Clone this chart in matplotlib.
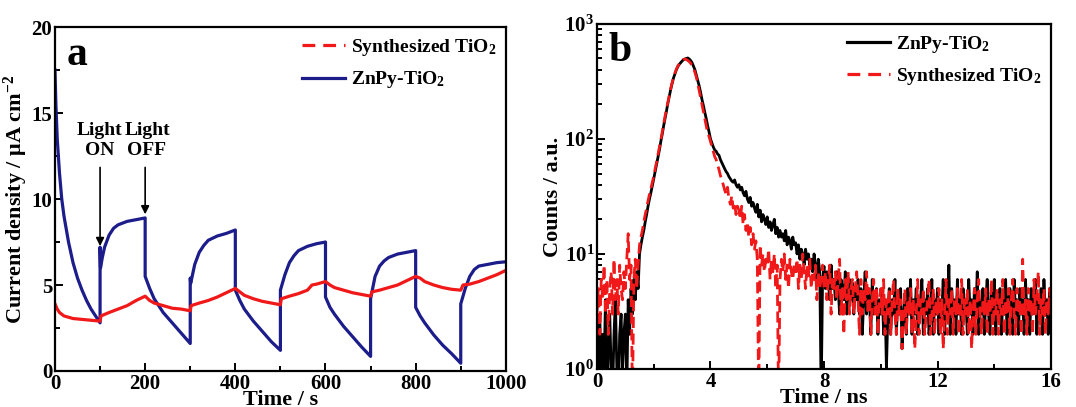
import matplotlib
matplotlib.use("Agg")
import matplotlib.pyplot as plt
import numpy as np
from matplotlib.lines import Line2D
from matplotlib.ticker import MultipleLocator, LogLocator, NullFormatter

plt.rcParams['font.family'] = ['Liberation Serif', 'DejaVu Serif']
plt.rcParams['font.weight'] = 'bold'
plt.rcParams['mathtext.fontset'] = 'custom'
plt.rcParams['mathtext.rm'] = 'Liberation Serif:bold'
plt.rcParams['mathtext.bf'] = 'Liberation Serif:bold'
plt.rcParams['mathtext.it'] = 'Liberation Serif:italic:bold'
plt.rcParams['mathtext.default'] = 'rm'

# ---------------- Panel a data: photocurrent ----------------
zn_t = [0, 2, 5, 10, 15, 20, 30, 40, 50, 60, 70, 80, 90, 100,
        100, 101, 105, 110, 120, 130, 140, 150, 160, 170, 180, 190, 200,
        200, 210, 220, 230, 240, 260, 280, 300,
        300, 301, 310, 320, 330, 340, 360, 380, 400,
        400, 410, 420, 440, 460, 480, 500,
        500, 510, 520, 530, 540, 560, 580, 600,
        600, 610, 620, 640, 660, 680, 700,
        700, 710, 720, 730, 740, 760, 780, 800,
        800, 810, 820, 840, 860, 880, 900,
        900, 910, 920, 930, 940, 960, 980, 1000]
zn_j = [17.5, 15.5, 13.5, 11.5, 10.0, 9.0, 7.5, 6.3, 5.4, 4.7, 4.1, 3.6, 3.2, 2.8,
        7.2, 6.0, 6.6, 7.2, 7.9, 8.3, 8.5, 8.6, 8.7, 8.75, 8.8, 8.85, 8.9,
        5.5, 4.8, 4.2, 3.8, 3.4, 2.8, 2.2, 1.6,
        5.4, 5.1, 6.2, 6.9, 7.3, 7.6, 7.85, 8.0, 8.2,
        4.7, 4.1, 3.6, 2.9, 2.3, 1.7, 1.2,
        4.7, 5.6, 6.3, 6.7, 7.0, 7.25, 7.4, 7.5,
        4.3, 3.7, 3.3, 2.6, 2.0, 1.4, 0.85,
        4.2, 5.5, 6.1, 6.4, 6.6, 6.8, 6.9, 7.0,
        3.7, 3.2, 2.8, 2.1, 1.5, 1.0, 0.45,
        3.9, 4.8, 5.5, 5.9, 6.1, 6.2, 6.3, 6.35]

syn_t = [0, 5, 10, 20, 40, 60, 80, 100, 102, 120, 140, 160, 180, 200,
         210, 220, 240, 260, 280, 300, 302, 320, 340, 360, 380, 400,
         410, 420, 440, 460, 480, 500, 502, 520, 540, 560, 570, 580, 600,
         610, 620, 640, 660, 680, 700, 703, 720, 740, 760, 780, 800,
         810, 820, 840, 860, 880, 900, 905, 920, 940, 960, 980, 1000]
syn_j = [3.9, 3.6, 3.4, 3.2, 3.05, 3.0, 2.95, 2.9, 3.2, 3.4, 3.6, 3.8, 4.1, 4.35,
         4.1, 3.95, 3.8, 3.65, 3.6, 3.5, 3.8, 3.95, 4.1, 4.3, 4.55, 4.8,
         4.6, 4.4, 4.2, 4.05, 3.95, 3.85, 4.2, 4.35, 4.5, 4.7, 5.0, 5.05, 5.2,
         5.0, 4.85, 4.7, 4.55, 4.45, 4.35, 4.6, 4.7, 4.85, 5.0, 5.25, 5.5,
         5.4, 5.2, 5.0, 4.85, 4.75, 4.7, 5.0, 5.05, 5.2, 5.4, 5.6, 5.85]

# ---------------- Panel b data: TRPL decay (0.05 ns steps, 0-16 ns) ----------------
trpl_t = [round(0.05 * i, 2) for i in range(321)]
zn_counts = [
    2, 1, 3, 0.6, 2, 1, 4, 0.5, 1.5, 3, 1, 0.6, 2, 4, 1, 0.5, 2, 3, 1, 2,
    3, 0.6, 4, 2, 5, 3, 6, 4, 7, 5, 10, 12, 14, 16, 19, 22, 26, 30, 34, 39,
    45, 52, 60, 70, 80, 95, 110, 130, 150, 175, 205, 235, 270, 305, 340, 370, 400, 425, 445, 460,
    475, 488, 495, 500, 505, 495, 480, 460, 430, 400, 360, 325, 290, 255, 220, 195, 170, 150, 130, 115,
    100, 92, 85, 80, 78, 74, 72, 66, 62, 58, 55, 52, 50, 47, 45, 43, 42, 44, 40, 38,
    40, 36, 38, 34, 32, 35, 30, 28, 31, 26, 28, 25, 23, 27, 21, 24, 19, 22, 20, 18,
    21, 17, 19, 16, 18, 20, 15, 17, 14, 16, 14, 15, 13, 16, 12, 14, 13, 11, 14, 12,
    12.5, 10, 12, 9, 11, 10, 8, 11, 9, 10, 8, 9, 7, 10, 8, 6, 9, 7, 0.6, 6,
    7.8, 5, 7, 6, 4, 8, 5, 6, 4, 7, 5, 3, 6, 5, 4, 7, 3, 5, 6, 4,
    5.6, 3, 5, 4, 6, 3, 5, 2, 4, 7, 3, 5, 4, 2, 6, 3, 4, 5, 2, 4,
    3, 5, 2, 4, 1, 3, 5, 2, 4, 3, 6, 2, 4, 3, 5, 1.5, 3, 4, 2, 5,
    3, 6, 2, 4, 3, 5, 2, 3, 4, 6, 2, 4, 3, 5, 2, 3, 6, 2, 4, 3,
    5, 2, 4, 3, 6, 2, 4, 3, 8, 2, 5, 3, 4, 2, 6, 3, 4, 2, 5, 3,
    4, 2, 6, 3, 4, 2, 5, 3, 7, 2, 4, 3, 5, 2, 4, 6, 3, 2, 5, 3,
    6, 2, 4, 3, 5, 2, 4, 3, 6, 2, 4, 5, 3, 2, 6, 3, 4, 2, 5, 3,
    4, 2, 6, 3, 4, 2, 5, 3, 4, 6, 2, 4, 3, 5, 2, 6, 3, 4, 2, 5,
    3]
syn_counts = [
    3, 5, 2, 6, 4, 8, 3, 6, 2, 5, 7, 3, 9, 4, 6, 3, 8, 5, 4, 7,
    5, 9, 15, 6, 8, 0.5, 6, 9, 5, 8, 12, 14, 16, 19, 22, 25, 29, 33, 37, 42,
    47, 55, 63, 73, 85, 98, 115, 135, 158, 182, 210, 240, 275, 310, 345, 375, 405, 430, 450, 465,
    480, 490, 495, 490, 480, 470, 455, 435, 410, 380, 345, 305, 265, 230, 200, 175, 150, 130, 112, 105,
    95, 86, 78, 70, 66, 60, 54, 48, 44, 40, 36, 33, 38, 30, 27, 32, 25, 28, 22, 26,
    24, 20, 26, 18, 22, 16, 19, 14, 17, 12, 15, 11, 13, 9, 0.5, 12, 8, 10, 7, 9,
    8, 11, 6, 9, 7, 10, 5, 8, 0.5, 6, 9, 7, 10, 6, 8, 5, 9, 7, 6, 8,
    7, 9, 5, 8, 6, 10, 7, 5, 8, 6, 9, 5, 7, 6, 8, 4, 7, 5, 6, 8,
    5, 7, 4, 6, 8, 3, 6, 5, 7, 4, 6, 9, 3, 5, 2, 6, 4, 7, 3, 5,
    6, 3, 5, 7, 4, 2, 6, 3, 5, 4, 7, 3, 5, 2, 4, 6, 3, 5, 2, 4,
    5, 3, 6, 2, 4, 3, 5, 2, 4, 6, 3, 2, 5, 3, 4, 1.5, 3, 5, 2, 4,
    3, 5, 2, 4, 1.5, 3, 6, 2, 4, 3, 5, 2, 3, 4, 6, 2, 3, 5, 2, 4,
    3, 5, 2, 4, 1.5, 3, 6, 2, 4, 3, 5, 2, 4, 3, 5, 2, 3, 6, 2, 4,
    3, 5, 2, 4, 1.5, 3, 5, 2, 4, 6, 3, 2, 4, 3, 5, 2, 4, 3, 6, 2,
    4, 3, 5, 2, 4, 3, 6, 2, 4, 3, 5, 2, 4, 6, 3, 2, 5, 3, 4, 2,
    9, 3, 4, 2, 5, 3, 4, 2, 6, 3, 4, 7, 2, 4, 3, 5, 2, 4, 3, 5,
    3]

BLUE = '#1c1c8a'
RED = '#f01818'

fig = plt.figure(figsize=(10.76, 4.07), dpi=100)
axa = fig.add_axes([0.0511, 0.0885, 0.419, 0.845])
axb = fig.add_axes([0.5548, 0.0934, 0.422, 0.848])

# ---- panel a ----
axa.plot(zn_t, zn_j, color=BLUE, lw=2.3)
axa.plot(syn_t, syn_j, color=RED, lw=2.3)
axa.set_xlim(0, 1000)
axa.set_ylim(0, 20)
axa.xaxis.set_major_locator(MultipleLocator(200))
axa.xaxis.set_minor_locator(MultipleLocator(100))
axa.yaxis.set_major_locator(MultipleLocator(5))
axa.yaxis.set_minor_locator(MultipleLocator(2.5))
axa.set_xlabel('Time / s', fontsize=16, fontweight='bold', labelpad=-2.5)
axa.set_ylabel(r'Current density / μA cm$^{-2}$', fontsize=16, fontweight='bold', labelpad=1)
axa.text(0.025, 0.975, 'a', transform=axa.transAxes, fontsize=30, fontweight='bold',
         va='top', ha='left')
axa.annotate('', xy=(100, 7.1), xytext=(100, 12.0),
             arrowprops=dict(arrowstyle='-|>', color='black', lw=1.2, mutation_scale=12))
axa.annotate('', xy=(200, 8.95), xytext=(200, 12.0),
             arrowprops=dict(arrowstyle='-|>', color='black', lw=1.2, mutation_scale=12))
axa.text(99, 12.3, 'Light\nON', ha='center', va='bottom', fontsize=14, fontweight='bold',
         linespacing=1.25)
axa.text(204, 12.3, 'Light\nOFF', ha='center', va='bottom', fontsize=14, fontweight='bold',
         linespacing=1.25)
ha_a = [Line2D([], [], color=RED, lw=2.3, ls=(0, (4, 2.5))),
        Line2D([], [], color=BLUE, lw=2.3)]
axa.legend(ha_a, ['Synthesized TiO$_2$', 'ZnPy-TiO$_2$'], loc='upper right',
           frameon=False, fontsize=14, handlelength=2.2, handletextpad=0.3,
           labelspacing=0.6, borderaxespad=0.1, bbox_to_anchor=(1.0, 1.0))

# ---- panel b ----
axb.plot(trpl_t, zn_counts, color='black', lw=2.0)
axb.plot(trpl_t, syn_counts, color=RED, lw=2.0, dashes=(4, 2))
axb.set_yscale('log')
axb.set_xlim(0, 16)
axb.set_ylim(1, 1000)
axb.xaxis.set_major_locator(MultipleLocator(4))
axb.xaxis.set_minor_locator(MultipleLocator(2))
axb.yaxis.set_major_locator(LogLocator(base=10, numticks=10))
axb.yaxis.set_minor_locator(LogLocator(base=10, subs=np.arange(2, 10), numticks=10))
axb.yaxis.set_minor_formatter(NullFormatter())
axb.set_xlabel('Time / ns', fontsize=16, fontweight='bold', labelpad=-2.5)
axb.set_ylabel('Counts / a.u.', fontsize=16, fontweight='bold', labelpad=1)
axb.text(0.025, 0.975, 'b', transform=axb.transAxes, fontsize=30, fontweight='bold',
         va='top', ha='left')
ha_b = [Line2D([], [], color='black', lw=2.3),
        Line2D([], [], color=RED, lw=2.3, ls=(0, (4, 2.5)))]
axb.legend(ha_b, ['ZnPy-TiO$_2$', 'Synthesized TiO$_2$'], loc='upper right',
           frameon=False, fontsize=14, handlelength=2.2, handletextpad=0.3,
           labelspacing=0.6, borderaxespad=0.1, bbox_to_anchor=(1.0, 1.0))

for ax in (axa, axb):
    for s in ax.spines.values():
        s.set_linewidth(1.6)
    ax.tick_params(which='both', direction='in', top=False, right=False,
                   labelsize=15, width=1.4, pad=2)
    ax.tick_params(which='major', length=6)
    ax.tick_params(which='minor', length=3.5)
    for lab in ax.get_xticklabels() + ax.get_yticklabels():
        lab.set_fontweight('bold')

fig.savefig('out.png', dpi=100)
